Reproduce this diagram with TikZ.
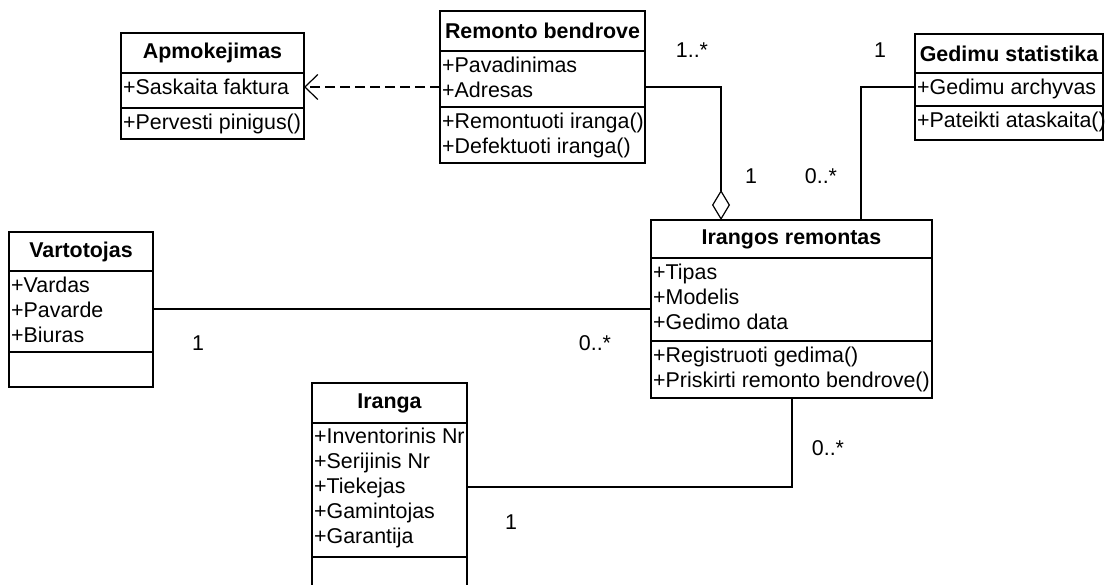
\documentclass[tikz,border=0pt]{standalone}
\usepackage{fontspec}
\setmainfont{Liberation Sans}
\usetikzlibrary{arrows.meta}

\begin{document}
\begin{tikzpicture}[x=1pt,y=-1pt,
  every node/.style={font=\fontsize{21.4}{25}\selectfont},
  classbox/.style={draw, line width=1.2pt, rectangle, inner sep=0pt, outer sep=0pt, anchor=north west},
  sepline/.style={line width=1.2pt},
  title/.style={font=\fontsize{21.4}{25}\selectfont\bfseries, inner sep=0pt},
  row/.style={anchor=base west, inner sep=0pt},
  assoc/.style={line width=1.2pt},
  mult/.style={inner sep=0pt}]

\useasboundingbox (0,0) rectangle (1109,585);
\clip (0,0) rectangle (1109,585);

% Apmokejimas
\node[classbox, minimum width=183pt, minimum height=106pt] (apm) at (121,33) {};
\draw[sepline] (apm.west |- 0,73) -- (apm.east |- 0,73);
\draw[sepline] (apm.west |- 0,108) -- (apm.east |- 0,108);
\node[title] (apmT) at (apm.north |- 0,53) {Apmokejimas};
\node[row] (apmA1) at (123,95) {+Saskaita faktura};
\node[row] (apmM1) at (123,129.5) {+Pervesti pinigus()};

% Remonto bendrove
\node[classbox, minimum width=205pt, minimum height=152pt] (rem) at (440,11) {};
\draw[sepline] (rem.west |- 0,51) -- (rem.east |- 0,51);
\draw[sepline] (rem.west |- 0,107) -- (rem.east |- 0,107);
\node[title] (remT) at (rem.north |- 0,31) {Remonto bendrove};
\node[row] (remA1) at (442,72.5) {+Pavadinimas};
\node[row] (remA2) at (442,97.5) {+Adresas};
\node[row] (remM1) at (442,128.5) {+Remontuoti iranga()};
\node[row] (remM2) at (442,153.5) {+Defektuoti iranga()};

% Gedimu statistika
\node[classbox, minimum width=188pt, minimum height=106pt] (ged) at (915,34) {};
\draw[sepline] (ged.west |- 0,73) -- (ged.east |- 0,73);
\draw[sepline] (ged.west |- 0,106) -- (ged.east |- 0,106);
\node[title] (gedT) at (ged.north |- 0,53.5) {Gedimu statistika};
\node[row] (gedA1) at (917,94.5) {+Gedimu archyvas};
\node[row] (gedM1) at (917,127.5) {+Pateikti ataskaita()};

% Irangos remontas
\node[classbox, minimum width=281pt, minimum height=178pt] (irr) at (651,220) {};
\draw[sepline] (irr.west |- 0,258) -- (irr.east |- 0,258);
\draw[sepline] (irr.west |- 0,341) -- (irr.east |- 0,341);
\node[title] (irrT) at (irr.north |- 0,239) {Irangos remontas};
\node[row] (irrA1) at (653,279.5) {+Tipas};
\node[row] (irrA2) at (653,304.5) {+Modelis};
\node[row] (irrA3) at (653,329.5) {+Gedimo data};
\node[row] (irrM1) at (653,362.5) {+Registruoti gedima()};
\node[row] (irrM2) at (653,387.5) {+Priskirti remonto bendrove()};

% Vartotojas
\node[classbox, minimum width=144pt, minimum height=155pt] (var) at (9,232) {};
\draw[sepline] (var.west |- 0,271) -- (var.east |- 0,271);
\draw[sepline] (var.west |- 0,352) -- (var.east |- 0,352);
\node[title] (varT) at (var.north |- 0,251.5) {Vartotojas};
\node[row] (varA1) at (11,292.5) {+Vardas};
\node[row] (varA2) at (11,317.5) {+Pavarde};
\node[row] (varA3) at (11,342.5) {+Biuras};

% Iranga (lower edge runs past the page)
\node[classbox, minimum width=155pt, minimum height=220pt] (ira) at (312,383) {};
\draw[sepline] (ira.west |- 0,423) -- (ira.east |- 0,423);
\draw[sepline] (ira.west |- 0,557) -- (ira.east |- 0,557);
\node[title] (iraT) at (ira.north |- 0,403) {Iranga};
\node[row] (iraA1) at (314,443.5) {+Inventorinis Nr};
\node[row] (iraA2) at (314,468.5) {+Serijinis Nr};
\node[row] (iraA3) at (314,493.5) {+Tiekejas};
\node[row] (iraA4) at (314,518.5) {+Gamintojas};
\node[row] (iraA5) at (314,543.5) {+Garantija};

% Dependency: Remonto bendrove uses Apmokejimas
\draw[assoc, dash pattern=on 10pt off 5pt, -{Straight Barb[length=13pt, width=25pt]}]
  (rem.west |- 0,87) -- (apm.east |- 0,87);

% Aggregation: Remonto bendrove -- Irangos remontas
\draw[assoc, -{Diamond[open, length=30pt, width=18pt]}]
  (rem.east |- 0,87) -| (irr.north -| 721,0);

% Association: Gedimu statistika -- Irangos remontas
\draw[assoc] (ged.west |- 0,87) -| (irr.north -| 861,0);

% Association: Vartotojas -- Irangos remontas
\draw[assoc] (var.east |- 0,309) -- (irr.west |- 0,309);

% Association: Iranga -- Irangos remontas
\draw[assoc] (ira.east |- 0,487) -| (irr.south -| 792,0);

% Multiplicities
\node[mult] (m1) at (692,50) {1..*};
\node[mult] (m2) at (880,50) {1};
\node[mult] (m3) at (751,176) {1};
\node[mult] (m4) at (821,176) {0..*};
\node[mult] (m5) at (198,343) {1};
\node[mult] (m6) at (595,343) {0..*};
\node[mult] (m7) at (828,448) {0..*};
\node[mult] (m8) at (511,522) {1};

\end{tikzpicture}
\end{document}
